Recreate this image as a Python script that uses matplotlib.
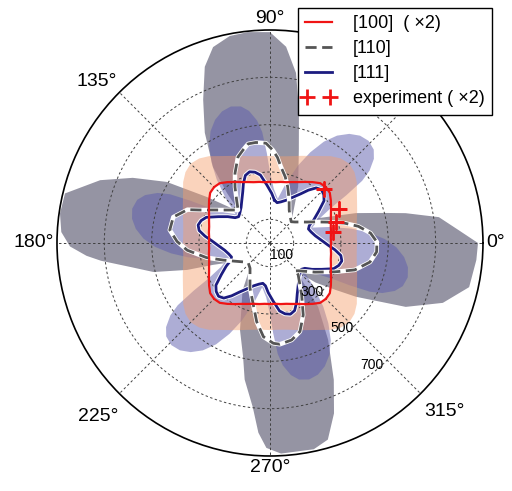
import matplotlib.pyplot as plt
import matplotlib.transforms as mtransforms
from matplotlib.legend_handler import HandlerLine2D
import numpy as np

plt.rcParams['font.family'] = ['Liberation Sans', 'DejaVu Sans']

# [100]: one quadrant (deg), raw values, plotted doubled
ang_100 = [0, 5, 10, 15, 20, 25, 30, 35, 40, 45, 50, 55, 60, 65, 70, 75, 80, 85]
r_100 = [129, 129, 131, 133, 137, 142, 149, 157, 165, 167, 165, 157, 149, 142, 137, 133, 131, 129]
r_100_hi = [184, 184, 186, 190, 196, 203, 212, 224, 233, 237, 233, 224, 212, 203, 196, 190, 186, 184]

# experiment, raw values, plotted doubled
ang_exp = [10, 17.5, 26, 45]
r_exp = [135, 146, 162, 160]

# [111]: one 60 deg period
ang_111 = [84, 88, 93, 98, 102, 106, 110, 114, 118, 123, 129, 135, 140]
r_111 = [182, 210, 245, 290, 306, 313, 304, 276, 245, 218, 194, 180, 173]
ang_111_hi = [80, 86, 90, 92, 94, 96, 99, 102, 106, 110, 114, 118, 122, 126, 130, 135]
r_111_hi = [190, 230, 300, 380, 470, 520, 565, 590, 600, 592, 570, 535, 485, 420, 350, 262]

# [110]: full turn
ang_110 = [-47, -44, -33, -24, -17.6, -10.8, -4.8, 0.5, 5.6, 10.7, 15, 20, 25, 30, 35, 40,
           45, 52, 59.7, 66, 72.5, 77, 81.8, 85, 88.3, 92.3, 98, 102.4, 106, 110.4, 116.6,
           122, 127.8, 134, 140, 145, 150, 155, 158, 165, 172.6, 179, 185, 193, 200, 207,
           215, 223, 231.7, 246, 260.4, 266, 271.9, 275.6, 282.6, 288.7, 294.8, 301.4, 311.5]
r_110 = [161, 169, 226, 300, 376, 430, 452, 452, 427, 380, 325, 258, 211, 177, 155, 138,
         127, 139, 161, 199, 249, 287, 325, 363, 393, 422, 429, 429, 410, 388, 330,
         279, 230, 194, 217, 243, 279, 330, 376, 423, 427, 393, 351, 275, 211, 169,
         139, 125, 136, 208, 337, 397, 424, 430, 420, 395, 335, 257, 180]
ang_110_hi = [-47, -41, -35.5, -32, -25.2, -19.1, -12.5, -4.7, 0, 3.9, 8.7, 12.4, 14.9, 19.2,
              26.6, 33, 40, 45, 52.5, 63.4, 72.7, 77.7, 81.3, 85.3, 90, 96, 101, 106.2, 110.3,
              115, 120.6, 126.9, 130.7, 134, 138.3, 143.9, 149.4, 154.6, 159.7, 166.4, 172,
              177, 181, 184, 186, 190, 194, 198, 201, 207, 215, 223, 231.7, 240, 251, 256.7,
              259.5, 264, 266.5, 269, 273, 282, 286.4, 290.6, 295, 301, 307, 311.5]
r_110_hi = [161, 254, 342, 429, 634, 773, 862, 875, 879, 799, 722, 587, 494, 384,
            237, 169, 139, 127, 161, 266, 410, 575, 727, 832, 891, 896, 891, 862, 794,
            668, 541, 401, 279, 194, 225, 330, 507, 642, 765, 891, 896,
            883, 845, 777, 718, 592, 507, 368, 258, 177, 139, 127, 139, 232, 389, 494,
            587, 697, 803, 866, 891, 891, 866, 769, 638, 477, 338, 190]

r_ticks = [100, 300, 500, 700]
theta_ticks = [0, 45, 90, 135, 180, 225, 270, 315]


def repeat(ang, r, step, n):
    a = np.concatenate([np.array(ang) + step * k for k in range(n)])
    return np.deg2rad(a), np.tile(r, n)


def closed(t, r):
    return np.append(t, t[0] + 2 * np.pi), np.append(r, r[0])


t100, v100 = closed(*repeat(ang_100, 2 * np.array(r_100), 90, 4))
t100h, v100h = closed(*repeat(ang_100, 2 * np.array(r_100_hi), 90, 4))
t111, v111 = closed(*repeat(ang_111, r_111, 60, 6))
t111h, v111h = closed(*repeat(ang_111_hi, r_111_hi, 60, 6))
t110, v110 = closed(np.deg2rad(ang_110), np.array(r_110))
t110h, v110h = closed(np.deg2rad(ang_110_hi), np.array(r_110_hi))

fig = plt.figure(figsize=(5.12, 4.91), dpi=100)
ax = fig.add_axes([0.1113, 0.0713, 0.832, 0.8676], projection='polar')


def band(t_out, r_out, t_in, r_in, color, alpha, z):
    ax.fill(np.concatenate([t_out, t_in[::-1]]), np.concatenate([r_out, r_in[::-1]]),
            color=color, alpha=alpha, lw=0, zorder=z)


band(t110h, v110h, t110, v110, (0.33, 0.32, 0.42), 0.62, 1.0)
band(t111h, v111h, t111, v111, (0.36, 0.36, 0.68), 0.5, 1.1)
band(t100h, v100h, t100, v100, (0.96, 0.62, 0.42), 0.45, 1.2)

ax.plot(t111, v111, color='white', lw=3.4, zorder=3)
l111, = ax.plot(t111, v111, color='#1c1c80', lw=2.0, zorder=3.1, label='[111]')
ax.plot(t110, v110, color='white', lw=3.2, zorder=3.2)
l110, = ax.plot(t110, v110, color='#555555', lw=2.0, ls=(0, (4, 2)), zorder=3.3, label='[110]')
l100, = ax.plot(t100, v100, color='#f01414', lw=1.6, zorder=3.4, label='[100]  ( ×2)')
lexp, = ax.plot(np.deg2rad(ang_exp), 2 * np.array(r_exp), ls='none', marker='+',
                ms=11, mew=2, color='#f01414', zorder=3.5, label='experiment ( ×2)')

ax.set_rlim(0, 900)
ax.set_thetagrids(theta_ticks, labels=[f'{a}°' for a in theta_ticks], fontsize=14)
ax.tick_params(axis='x', pad=-8)
# anchor each angle label on the side facing the circle
align = {0: ('left', 'center'), 45: ('left', 'bottom'), 90: ('center', 'bottom'),
         135: ('right', 'bottom'), 180: ('right', 'center'), 225: ('right', 'top'),
         270: ('center', 'top'), 315: ('left', 'top')}
nudge = {225: (0.04, -0.09), 315: (-0.01, -0.04)}
for a, lab in zip(theta_ticks, ax.get_xticklabels()):
    lab.set_ha(align[a][0])
    lab.set_va(align[a][1])
    if a in nudge:
        dx, dy = nudge[a]
        lab.set_transform(lab.get_transform()
                          + mtransforms.ScaledTranslation(dx, dy, fig.dpi_scale_trans))

ax.set_rgrids(r_ticks, labels=['' for _ in r_ticks])
ax.set_axisbelow(False)
ax.grid(True, color='0.25', ls=(0, (2.5, 2.5)), lw=0.7)
ax.spines['polar'].set_linewidth(1.2)

# radial tick labels along a line just below the -45 deg spoke
lab_tr = mtransforms.offset_copy(ax.transData, fig, x=-3, y=6, units='dots')
for rv in r_ticks:
    ax.text(np.deg2rad(-50.5), rv, str(rv), transform=lab_tr, fontsize=10,
            ha='center', va='center', zorder=4)

leg = ax.legend(handles=[l100, l110, l111, lexp], loc='upper right',
                bbox_to_anchor=(0.961, 0.984), bbox_transform=fig.transFigure,
                borderaxespad=0, fontsize=13, fancybox=False, framealpha=1,
                edgecolor='black', handlelength=1.5, handletextpad=1.15,
                labelspacing=0.45, borderpad=0.4,
                handler_map={lexp: HandlerLine2D(numpoints=2, marker_pad=0.1)})
leg.get_frame().set_linewidth(1.0)
leg.set_zorder(10)

fig.savefig('out.png', dpi=100)
